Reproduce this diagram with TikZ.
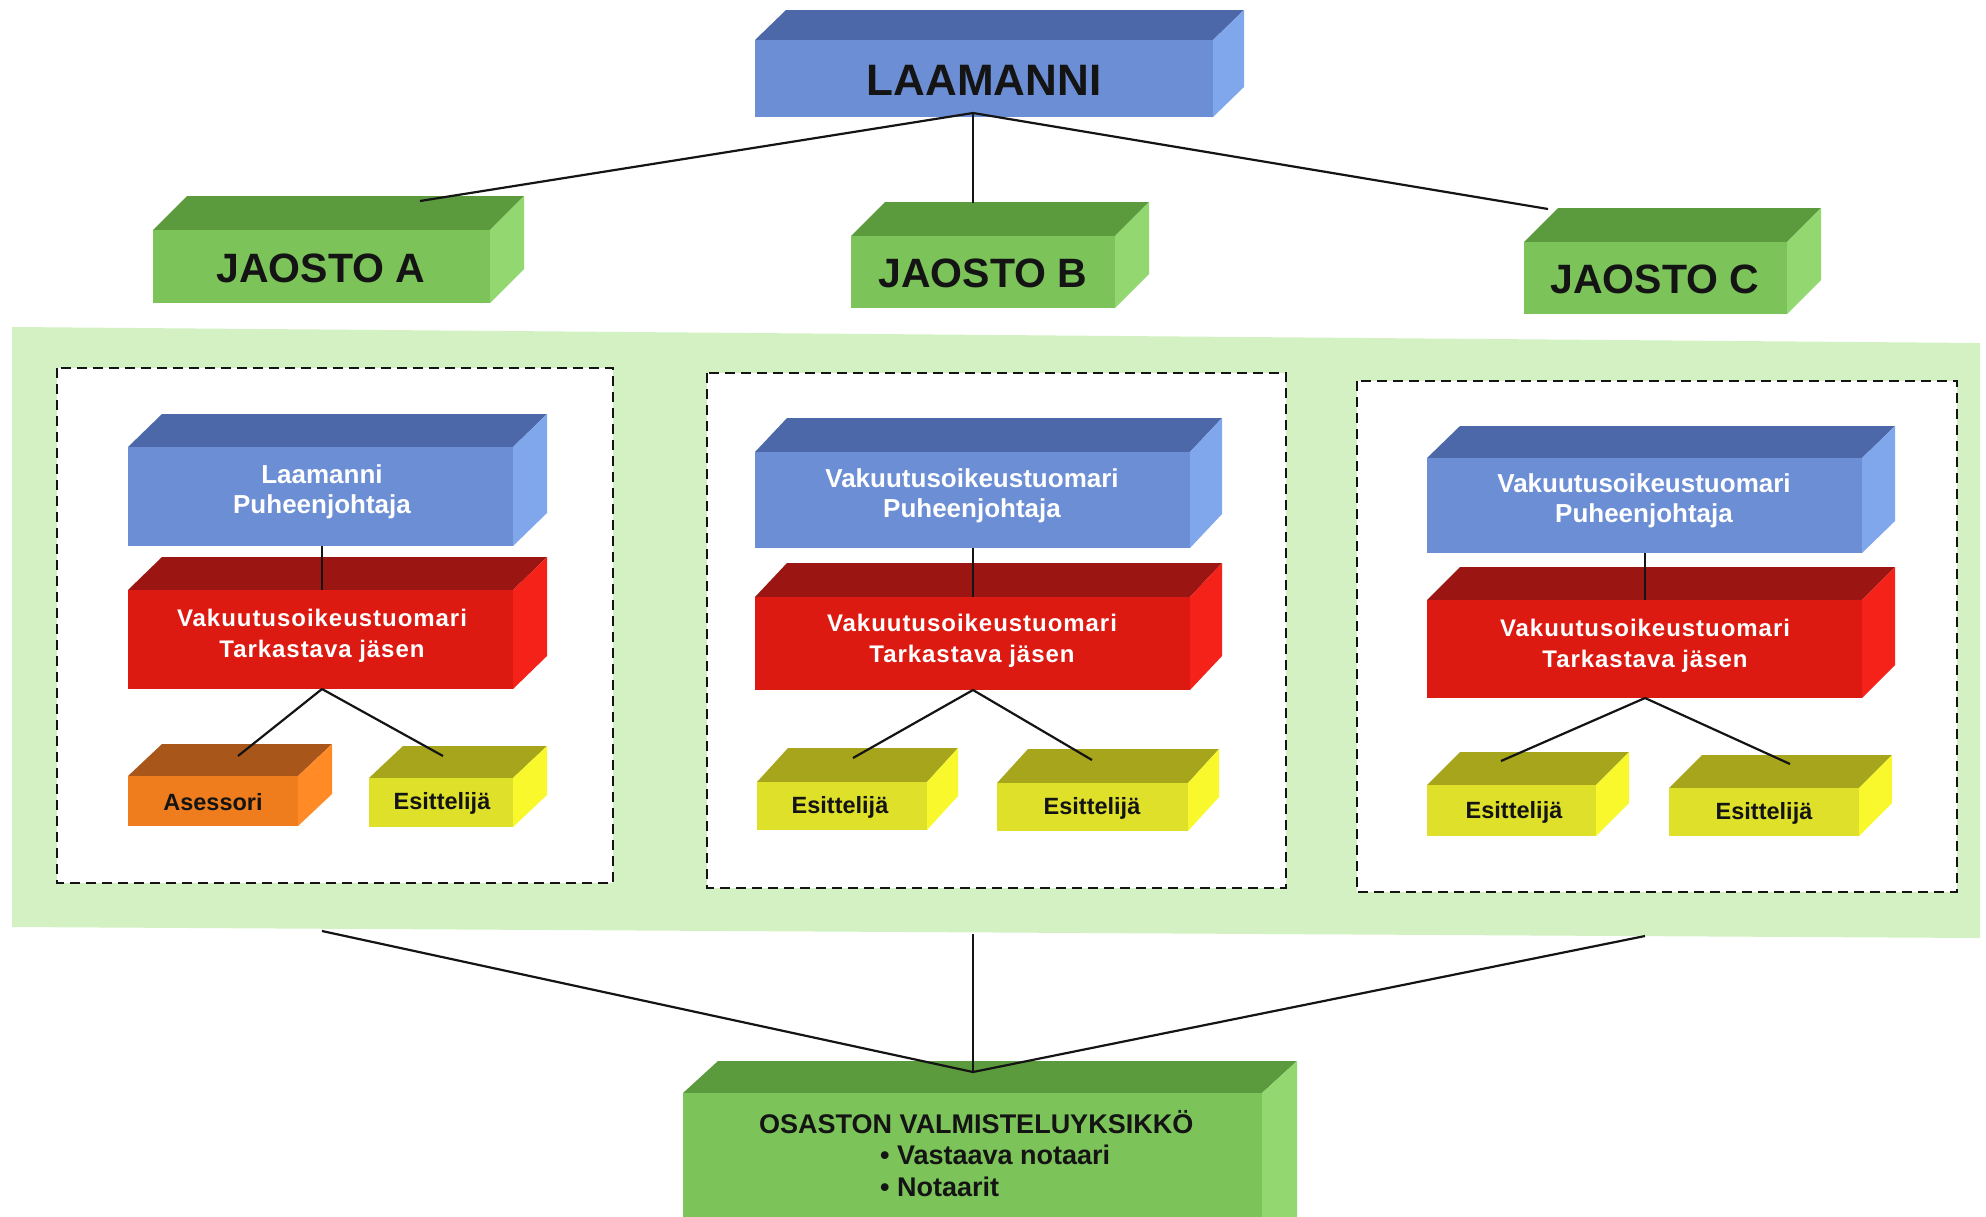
\documentclass[tikz,border=0pt]{standalone}
\usepackage{fontspec}
\setmainfont{Liberation Sans}
\newfontfamily\spacedfont[LetterSpace=4]{Liberation Sans}
\usetikzlibrary{calc}
\definecolor{bandgreen}{HTML}{D3F1C3}
\definecolor{bluefront}{HTML}{6C8ED4}
\definecolor{bluetop}{HTML}{4C68A9}
\definecolor{blueside}{HTML}{80A6EC}
\definecolor{greenfront}{HTML}{7CC35A}
\definecolor{greentop}{HTML}{5B9B3D}
\definecolor{greenside}{HTML}{93D770}
\definecolor{redfront}{HTML}{DD1A12}
\definecolor{redtop}{HTML}{9B1613}
\definecolor{redside}{HTML}{F5221A}
\definecolor{orangefront}{HTML}{EF7D1E}
\definecolor{orangetop}{HTML}{A9561A}
\definecolor{orangeside}{HTML}{FF8A26}
\definecolor{yellowfront}{HTML}{DEE02A}
\definecolor{yellowtop}{HTML}{A7A51C}
\definecolor{yellowside}{HTML}{F8F82C}
\definecolor{inkdark}{HTML}{141414}
% #1,#2 front top-left; #3,#4 front bottom-right; #5,#6 depth (right, up); #7 palette
\newcommand\drawcube[7]{%
  \fill[#7top] (#1,#2) -- (#1+#5,#2-#6) -- (#3+#5,#2-#6) -- (#3,#2) -- cycle;
  \fill[#7side] (#3,#2) -- (#3+#5,#2-#6) -- (#3+#5,#4-#6) -- (#3,#4) -- cycle;
  \fill[#7front] (#1,#2) rectangle (#3,#4);
}
\tikzset{
  conn/.style={line width=2.2pt, draw=inkdark},
  dbox/.style={draw=inkdark, fill=white, line width=2.8pt, dash pattern=on 10pt off 6pt},
  toptext/.style={font=\bfseries\fontsize{44}{48}\selectfont, text=inkdark},
  jtext/.style={font=\bfseries\fontsize{41}{46}\selectfont, text=inkdark},
  bluetext/.style={font=\bfseries\fontsize{26}{30}\selectfont, text=white, align=center},
  redtext/.style={font=\spacedfont\bfseries\fontsize{24}{31}\selectfont, text=white, align=center},
  smalltext/.style={font=\bfseries\fontsize{23.5}{28}\selectfont, text=inkdark},
  osatext/.style={font=\bfseries\fontsize{27}{31.5}\selectfont, text=inkdark, align=left, anchor=north west, inner sep=0pt}
}
\begin{document}
\begin{tikzpicture}[x=1pt,y=-1pt]
\clip (0,0) rectangle (1986,1216);
\fill[white] (0,0) rectangle (1986,1216);
% light green band
\fill[bandgreen] (12,327) -- (1980,343) -- (1980,938) -- (12,927) -- cycle;
% dashed panels
\draw[dbox] (57,368) rectangle (613,883);
\draw[dbox] (707,373) rectangle (1286,888);
\draw[dbox] (1357,381) rectangle (1957,892);
% top level
\drawcube{755}{40}{1213}{117}{31}{30}{blue}
\drawcube{153}{230}{490}{303}{34}{34}{green}
\drawcube{851}{236}{1115}{308}{34}{34}{green}
\drawcube{1524}{242}{1787}{314}{34}{34}{green}
% panel A
\drawcube{128}{447}{513}{546}{34}{33}{blue}
\drawcube{128}{590}{513}{689}{34}{33}{red}
\drawcube{128}{776}{298}{826}{34}{32}{orange}
\drawcube{369}{778}{513}{827}{34}{32}{yellow}
% panel B
\drawcube{755}{452}{1190}{548}{32}{34}{blue}
\drawcube{755}{597}{1190}{690}{32}{34}{red}
\drawcube{757}{782}{927}{830}{31}{34}{yellow}
\drawcube{997}{783}{1188}{831}{31}{34}{yellow}
% panel C
\drawcube{1427}{458}{1862}{553}{33}{32}{blue}
\drawcube{1427}{600}{1862}{698}{33}{33}{red}
\drawcube{1427}{785}{1596}{836}{33}{33}{yellow}
\drawcube{1669}{788}{1859}{836}{33}{33}{yellow}
% bottom unit
\drawcube{683}{1093}{1262}{1250}{35}{32}{green}
% connector end points
\coordinate (laam-b) at (973,113);
\coordinate (jA-t) at (420,201);
\coordinate (jB-t) at (973,203);
\coordinate (jC-t) at (1548,209);
\coordinate (bA-b) at (322,546);  \coordinate (rA-t) at (322,590);
\coordinate (bB-b) at (973,548);  \coordinate (rB-t) at (973,597);
\coordinate (bC-b) at (1645,553); \coordinate (rC-t) at (1645,600);
\coordinate (rA-b) at (322,689);  \coordinate (asA-t) at (238,756); \coordinate (esA-t) at (443,756);
\coordinate (rB-b) at (973,690);  \coordinate (esB1-t) at (853,758); \coordinate (esB2-t) at (1092,760);
\coordinate (rC-b) at (1645,698); \coordinate (esC1-t) at (1501,761); \coordinate (esC2-t) at (1790,764);
\coordinate (bandA-b) at (322,931);
\coordinate (bandB-b) at (973,934);
\coordinate (bandC-b) at (1645,936);
\coordinate (osa-t) at (973,1072);
% connectors
\draw[conn] (jA-t) -- (laam-b) -- (jC-t);
\draw[conn] (laam-b) -- (jB-t);
\draw[conn] (bA-b) -- (rA-t);
\draw[conn] (bB-b) -- (rB-t);
\draw[conn] (bC-b) -- (rC-t);
\draw[conn] (asA-t) -- (rA-b) -- (esA-t);
\draw[conn] (esB1-t) -- (rB-b) -- (esB2-t);
\draw[conn] (esC1-t) -- (rC-b) -- (esC2-t);
\draw[conn] (bandA-b) -- (osa-t) -- (bandC-b);
\draw[conn] (bandB-b) -- (osa-t);
% texts
\node[toptext] (laamanni) at (984,80) {LAAMANNI};
\node[jtext] (jaostoA) at (321,268) {JAOSTO A};
\node[jtext] (jaostoB) at (983,273) {JAOSTO B};
\node[jtext] (jaostoC) at (1655,279) {JAOSTO C};
\node[bluetext] (blueA) at (322,492) {Laamanni\\Puheenjohtaja};
\node[redtext] (redA) at (322,636) {Vakuutusoikeustuomari\\Tarkastava jäsen};
\node[smalltext] (asessori) at (213,802) {Asessori};
\node[smalltext] (esA) at (442,803) {Esittelijä};
\node[bluetext] (blueB) at (972,496) {Vakuutusoikeustuomari\\Puheenjohtaja};
\node[redtext] (redB) at (972,641) {Vakuutusoikeustuomari\\Tarkastava jäsen};
\node[smalltext] (esB1) at (840,807) {Esittelijä};
\node[smalltext] (esB2) at (1092,808) {Esittelijä};
\node[bluetext] (blueC) at (1644,501) {Vakuutusoikeustuomari\\Puheenjohtaja};
\node[redtext] (redC) at (1645,646) {Vakuutusoikeustuomari\\Tarkastava jäsen};
\node[smalltext] (esC1) at (1514,812) {Esittelijä};
\node[smalltext] (esC2) at (1764,813) {Esittelijä};
\node[osatext] (osasto) at (759,1110) {OSASTON VALMISTELUYKSIKKÖ\\\hspace*{121pt}• Vastaava notaari\\\hspace*{121pt}• Notaarit};
\end{tikzpicture}
\end{document}
